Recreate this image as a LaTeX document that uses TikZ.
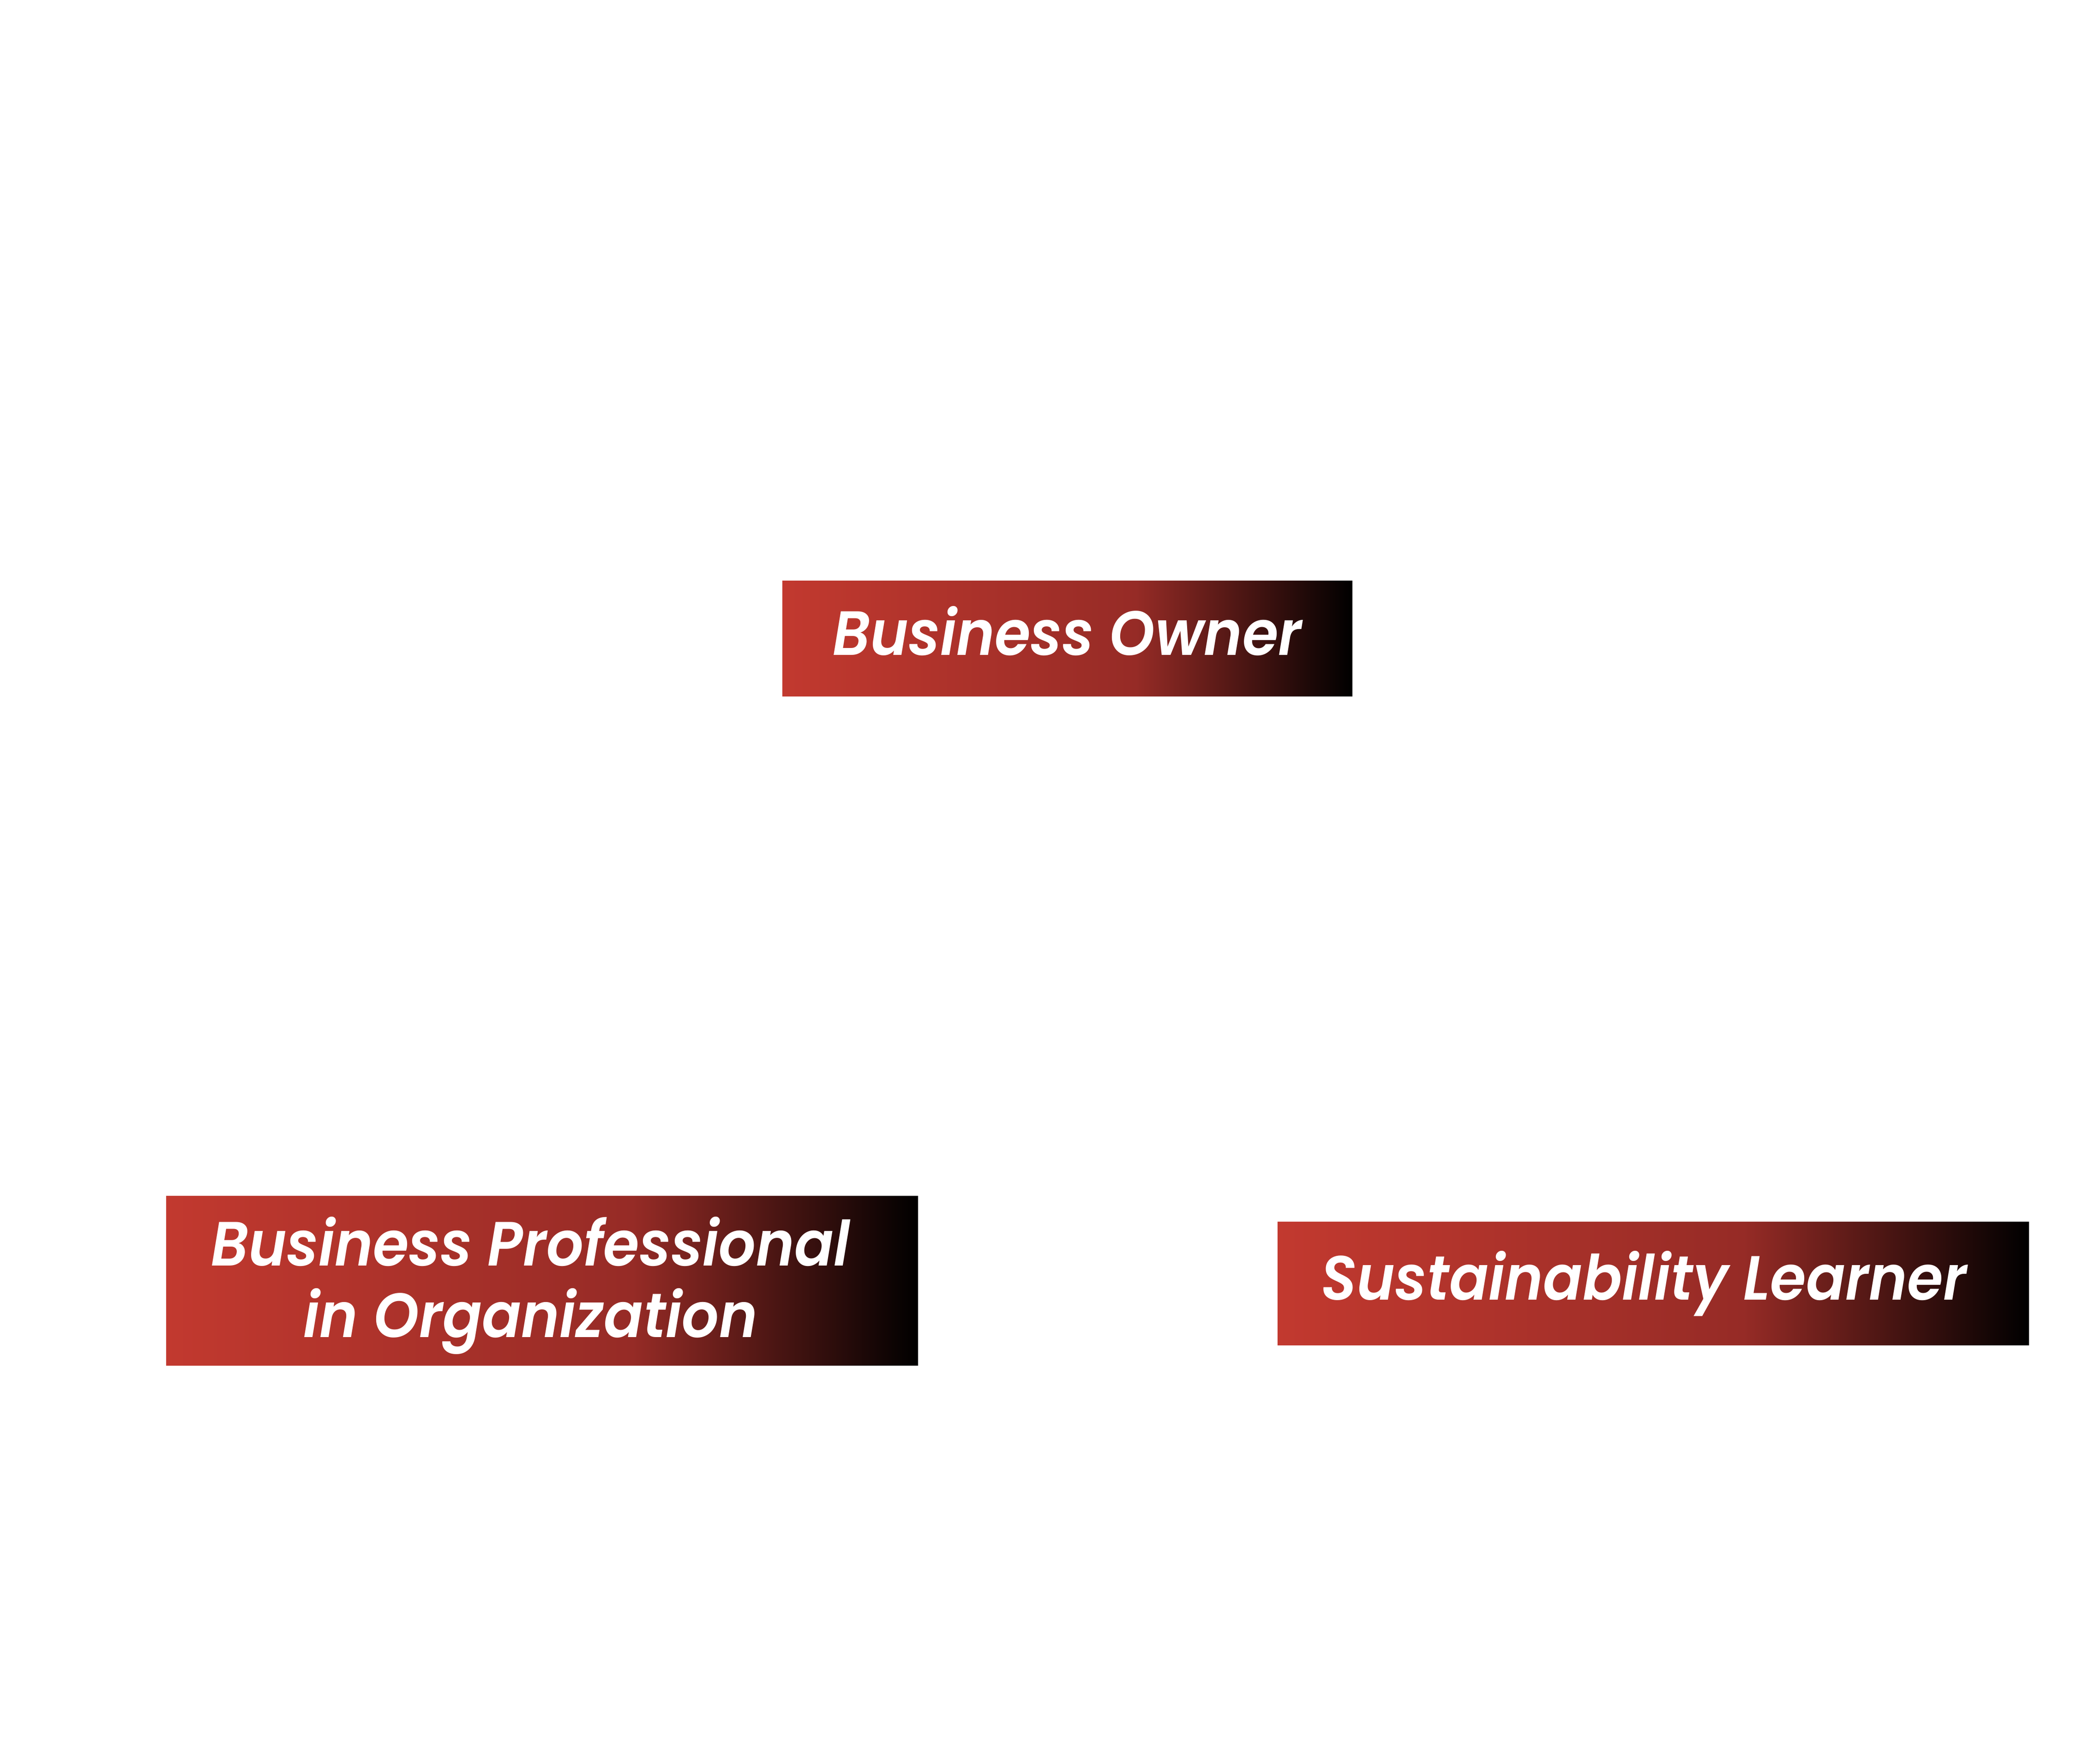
\documentclass[tikz,border=0pt]{standalone}
\usepackage{fontspec}
\newfontfamily\lblfont{Poppins SemiBold Italic}[FakeStretch=0.93]
\definecolor{gA}{RGB}{194,57,47}
\definecolor{gB}{RGB}{150,43,38}
\definecolor{gC}{RGB}{0,0,0}
\pgfdeclarehorizontalshading{redblack}{100bp}{color(0bp)=(gA); color(25bp)=(gA); color(56bp)=(gB); color(75bp)=(gC); color(100bp)=(gC)}
\newcommand{\shifttxt}[2]{\raisebox{#1}[\height][\depth]{#2}}
\tikzset{
  rolebox/.style={shading=redblack, draw=none, inner sep=0pt, text=white, align=center,
    font=\lblfont\fontsize{38.5}{44}\selectfont},
}
\begin{document}
\begin{tikzpicture}
\useasboundingbox[fill=white] (0,0) rectangle (45,38.21);
\node[rolebox, minimum width=12.35cm, minimum height=2.50cm] (owner) at (23.125,24.37) {\shifttxt{0.17cm}{Business Owner}};
\node[rolebox, minimum width=16.29cm, minimum height=3.67cm] (prof) at (11.745,10.455) {\shifttxt{-0.1cm}{Business Professional\hspace*{0.5cm}}\\\shifttxt{-0.1cm}{in Organization\hspace*{0.5cm}}};
\node[rolebox, minimum width=16.28cm, minimum height=2.67cm] (learner) at (35.82,10.395) {Sustainability Learner\hspace*{0.4cm}};
\end{tikzpicture}
\end{document}
